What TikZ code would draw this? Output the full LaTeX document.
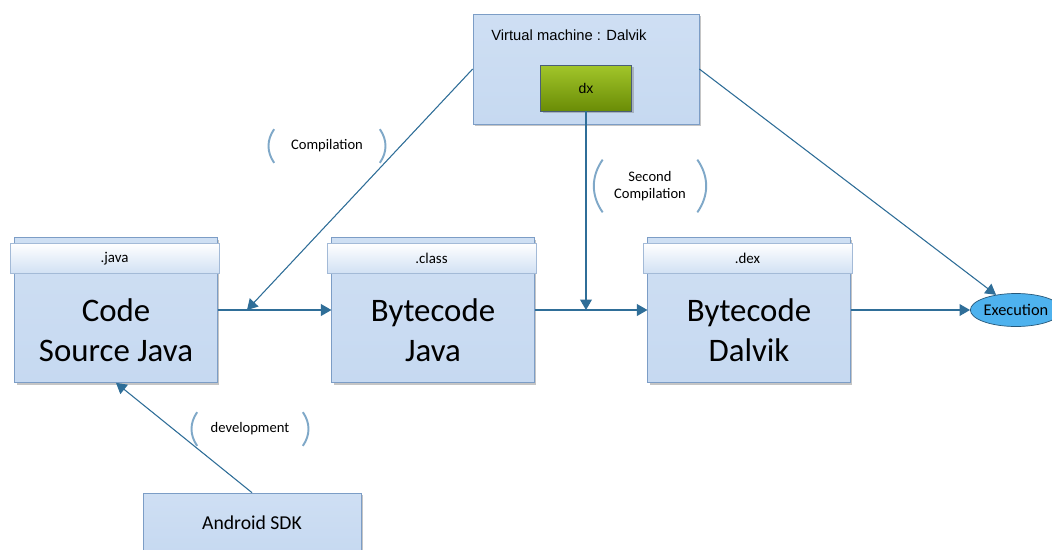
\documentclass[tikz,border=0pt]{standalone}
\usepackage{fontspec}
\setmainfont{Carlito}
\newfontfamily\arialfont{Liberation Sans}
\usepackage{tikz}
\usetikzlibrary{arrows}
\usetikzlibrary{shadows}
\usetikzlibrary{shapes.geometric}
\definecolor{boxblue}{HTML}{C6D9F1}
\definecolor{boxline}{HTML}{7C9DC6}
\definecolor{edgeblue}{HTML}{2F6E98}
\definecolor{parenblue}{HTML}{7FA8C8}
\definecolor{dxtop}{HTML}{A2C62A}
\definecolor{dxbot}{HTML}{6A8C06}
\definecolor{execblue}{HTML}{4EB2EE}
\tikzset{%
  myedge/.style={->, >=triangle 60, draw=edgeblue, fill=edgeblue, line width=0.6pt},
  mybox/.style={rectangle, draw=boxline, top color=boxblue!85, bottom color=boxblue, inner sep=0pt,
    drop shadow={shadow xshift=1.2pt, shadow yshift=-1.2pt, opacity=0.45}},
  myhead/.style={rectangle, draw=boxline!70, top color=white, bottom color=boxblue!80,
    minimum width=4.18cm, minimum height=0.6cm, inner sep=0pt, font=\fontsize{8.5}{10}\selectfont},
  mytext/.style={align=center, font=\fontsize{18.7}{22.7}\selectfont},
  mylabel/.style={align=center, font=\fontsize{8.3}{9.6}\selectfont, minimum width=2.1cm,
    minimum height=0.66cm, inner sep=0pt},
  myparen/.style={draw=parenblue, line width=1.1pt, bend angle=35}
}

\begin{document}
\begin{tikzpicture}[x=0.02cm, y=-0.02cm]
\fill[white] (0,0) rectangle (1052,549);
\useasboundingbox (0,0) rectangle (1052,549);

% machine virtuelle
\node[mybox, minimum width=4.52cm, minimum height=2.2cm] (vm) at (586,69) {};
\node[anchor=west, inner sep=0pt, font=\arialfont\fontsize{8.4}{10}\selectfont] (vmtxt) at (491,35) {Virtual machine : Dalvik};
\node[rectangle, draw=boxline!60!black, top color=dxtop, bottom color=dxbot, inner sep=0pt,
  drop shadow={shadow xshift=1.2pt, shadow yshift=-1.2pt, opacity=0.45},
  minimum width=1.82cm, minimum height=0.92cm, font=\arialfont\fontsize{8}{10}\selectfont] (dx) at (586,88) {dx};

\foreach \nm/\cx/\ext/\txt in {java/116/.java/{Code\\Source Java},
                               class/433/.class/{Bytecode\\Java},
                               dex/749/.dex/{Bytecode\\Dalvik}} {
  \node[mybox, minimum width=4.05cm, minimum height=2.9cm] (\nm) at (\cx,310) {};
  \node[myhead] (\nm hd) at ([xshift=-0.03cm, yshift=-0.42cm]\nm.north) {\ext};
  \node[mytext] (\nm txt) at ([yshift=-0.4cm]\nm.center) {\txt};
}

\node[ellipse, draw=edgeblue!80!black, fill=execblue, minimum width=1.64cm, minimum height=0.66cm,
  inner sep=0pt, font=\fontsize{9.3}{11}\selectfont] (exec) at (1016,310) {Execution};
\node[mybox, minimum width=4.36cm, minimum height=1.2cm, font=\fontsize{11.2}{13}\selectfont] (sdk) at (252,523) {Android SDK};

\node[mylabel] (comp) at (327,146) {Compilation};
\node[mylabel, minimum width=1.88cm, minimum height=1.04cm] (scomp) at (650,186) {Second\\Compilation};
\node[mylabel] (dev) at (250,429) {development};
\foreach \lb in {comp, scomp, dev} {
  \draw[myparen] (\lb.north west) to[bend right] (\lb.south west);
  \draw[myparen] (\lb.north east) to[bend left] (\lb.south east);
}

% fleches
\coordinate (cmpend) at (247,310);
\coordinate (scmpend) at (586,310);
\draw[myedge] (java) -- (class);
\draw[myedge] (class) -- (dex);
\draw[myedge] (dex) -- (exec);
\draw[myedge] (vm.west) -- (cmpend);
\draw[myedge] (dx.south) -- (scmpend);
\draw[myedge] (vm.east) -- (exec);
\draw[myedge] (sdk.north) -- (java.south);
\end{tikzpicture}
\end{document}
